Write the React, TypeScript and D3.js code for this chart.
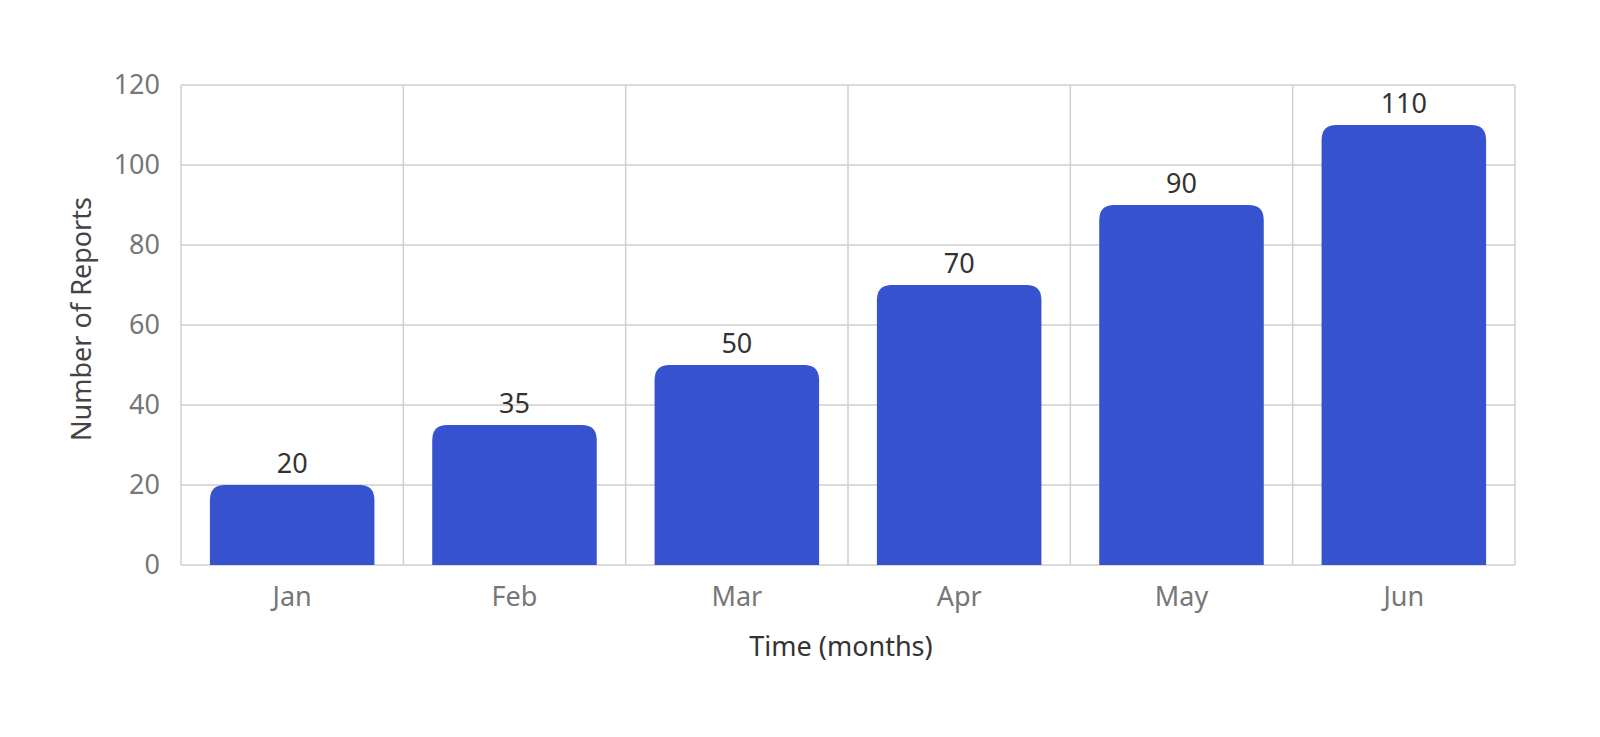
import * as d3 from 'd3';
import * as React from 'react';
import { useEffect, useRef } from 'react';

const months: string[] = ['Jan', 'Feb', 'Mar', 'Apr', 'May', 'Jun'];
const reports: number[] = [20, 35, 50, 70, 90, 110];
const yTicks: number[] = [0, 20, 40, 60, 80, 100, 120];

const W = 1600;
const H = 737;
const FONT = "'Source Sans Pro', 'Noto Sans', sans-serif";

export default function App() {
  const ref = useRef<SVGSVGElement | null>(null);

  useEffect(() => {
    if (!ref.current) return;
    const svg = d3.select(ref.current);
    svg.selectAll('*').remove();

    const left = 181;
    const right = 1515;
    const top = 85;
    const bottom = 565;

    const x = d3.scaleBand<string>().domain(months).range([left, right]).paddingInner(0.26).paddingOuter(0.13);
    const y = d3.scaleLinear().domain([0, 120]).range([bottom, top]);
    const bands = d3.scaleBand<string>().domain(months).range([left, right]);

    const g = svg.append('g');

    // horizontal grid
    g.selectAll('line.h')
      .data(yTicks)
      .enter().append('line')
      .attr('x1', left).attr('x2', right)
      .attr('y1', d => y(d)).attr('y2', d => y(d))
      .attr('stroke', '#cfcfcf').attr('stroke-width', 1.5);

    // vertical grid (band edges)
    const edges = months.map(m => bands(m) as number).concat([right]);
    g.selectAll('line.v')
      .data(edges)
      .enter().append('line')
      .attr('x1', d => d).attr('x2', d => d)
      .attr('y1', top).attr('y2', bottom)
      .attr('stroke', '#cfcfcf').attr('stroke-width', 1.5);

    // bars with rounded top corners
    const r = 15;
    g.selectAll('path.bar')
      .data(reports)
      .enter().append('path')
      .attr('fill', '#3652cf')
      .attr('d', (d, i) => {
        const x0 = x(months[i]) as number;
        const x1 = x0 + x.bandwidth();
        const y0 = y(d);
        const y1 = y(0);
        return `M${x0},${y1}V${y0 + r}Q${x0},${y0} ${x0 + r},${y0}H${x1 - r}Q${x1},${y0} ${x1},${y0 + r}V${y1}Z`;
      });

    // value labels
    g.selectAll('text.val')
      .data(reports)
      .enter().append('text')
      .attr('x', (d, i) => (x(months[i]) as number) + x.bandwidth() / 2)
      .attr('y', d => y(d) - 12)
      .attr('text-anchor', 'middle')
      .attr('font-family', FONT)
      .attr('font-size', 27)
      .attr('fill', '#333')
      .text(d => String(d));

    // y tick labels
    g.selectAll('text.yt')
      .data(yTicks)
      .enter().append('text')
      .attr('x', 160)
      .attr('y', d => y(d))
      .attr('dy', '0.35em')
      .attr('text-anchor', 'end')
      .attr('font-family', FONT)
      .attr('font-size', 27)
      .attr('fill', '#777')
      .text(d => String(d));

    // x tick labels
    g.selectAll('text.xt')
      .data(months)
      .enter().append('text')
      .attr('x', d => (bands(d) as number) + bands.bandwidth() / 2)
      .attr('y', 597)
      .attr('dy', '0.35em')
      .attr('text-anchor', 'middle')
      .attr('font-family', FONT)
      .attr('font-size', 27)
      .attr('fill', '#777')
      .text(d => d);

    // axis titles
    g.append('text')
      .attr('x', 841)
      .attr('y', 647)
      .attr('dy', '0.35em')
      .attr('text-anchor', 'middle')
      .attr('font-family', FONT)
      .attr('font-size', 27)
      .attr('fill', '#333')
      .text('Time (months)');

    g.append('text')
      .attr('transform', `translate(82,319) rotate(-90)`)
      .attr('dy', '0.35em')
      .attr('text-anchor', 'middle')
      .attr('font-family', FONT)
      .attr('font-size', 27)
      .attr('fill', '#444')
      .text('Number of Reports');
  }, []);

  return (
    <svg
      ref={ref}
      width={W}
      height={H}
      style={{ position: 'absolute', left: 0, top: 0, background: '#fff' }}
    />
  );
}
